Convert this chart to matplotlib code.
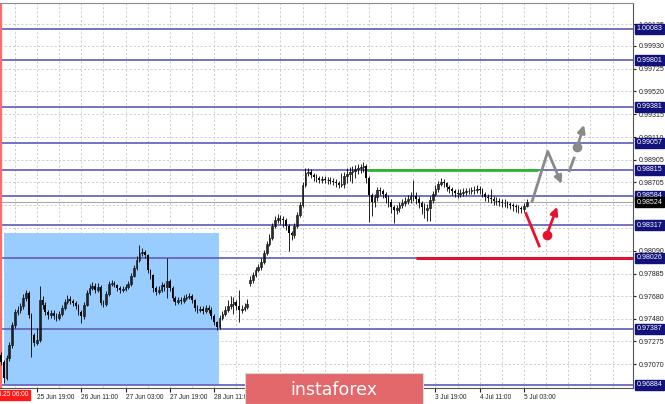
import numpy as np
import matplotlib
matplotlib.use("Agg")
import matplotlib.pyplot as plt
from matplotlib.patches import Rectangle

plt.rcParams['font.family'] = ['Liberation Sans', 'DejaVu Sans']

# hourly candles, bar 1 = 25 Jun 06:00 (weekend removed)
first_open = 0.97150
gap_bar = 91
gap_open = 0.97800
closes = [
    0.97090, 0.96947, 0.97126, 0.97243, 0.97423, 0.97539, 0.97557, 0.97593, 0.97665, 0.97710,
    0.97512, 0.97333, 0.97261, 0.97288, 0.97647, 0.97602, 0.97539, 0.97512, 0.97530, 0.97503,
    0.97485, 0.97521, 0.97575, 0.97629, 0.97656, 0.97638, 0.97620, 0.97593, 0.97539, 0.97503,
    0.97602, 0.97710, 0.97755, 0.97773, 0.97737, 0.97764, 0.97620, 0.97611, 0.97701, 0.97791,
    0.97800, 0.97782, 0.97755, 0.97737, 0.97746, 0.97764, 0.97791, 0.97863, 0.97934, 0.98006,
    0.98069, 0.98078, 0.98051, 0.97916, 0.97872, 0.97755, 0.97719, 0.97737, 0.97782, 0.97764,
    0.97818, 0.97755, 0.97665, 0.97629, 0.97647, 0.97638, 0.97665, 0.97674, 0.97683, 0.97647,
    0.97575, 0.97557, 0.97566, 0.97548, 0.97575, 0.97557, 0.97503, 0.97449, 0.97405, 0.97485,
    0.97521, 0.97557, 0.97593, 0.97611, 0.97629, 0.97593, 0.97557, 0.97566, 0.97584, 0.97611,
    0.97827, 0.97872, 0.97916, 0.97943, 0.97988, 0.98069, 0.98150, 0.98204, 0.98311, 0.98365,
    0.98383, 0.98374, 0.98365, 0.98311, 0.98248, 0.98230, 0.98311, 0.98410, 0.98500, 0.98680,
    0.98787, 0.98796, 0.98770, 0.98752, 0.98743, 0.98725, 0.98734, 0.98725, 0.98725, 0.98716,
    0.98707, 0.98698, 0.98680, 0.98689, 0.98761, 0.98778, 0.98796, 0.98805, 0.98823, 0.98832,
    0.98841, 0.98850, 0.98743, 0.98590, 0.98527, 0.98572, 0.98635, 0.98626, 0.98599, 0.98563,
    0.98527, 0.98482, 0.98455, 0.98473, 0.98500, 0.98518, 0.98536, 0.98554, 0.98581, 0.98581,
    0.98554, 0.98518, 0.98482, 0.98455, 0.98473, 0.98545, 0.98599, 0.98644, 0.98689, 0.98707,
    0.98698, 0.98662, 0.98644, 0.98626, 0.98608, 0.98599, 0.98608, 0.98617, 0.98626, 0.98626,
    0.98635, 0.98635, 0.98644, 0.98635, 0.98599, 0.98572, 0.98563, 0.98554, 0.98536, 0.98536,
    0.98527, 0.98518, 0.98518, 0.98509, 0.98500, 0.98491, 0.98482, 0.98473, 0.98464, 0.98491,
    0.98524,
]
highs = [
    0.97180, 0.97110, 0.97150, 0.97270, 0.97450, 0.97570, 0.97590, 0.97620, 0.97700, 0.97740,
    0.97730, 0.97530, 0.97350, 0.97400, 0.97770, 0.97680, 0.97630, 0.97560, 0.97560, 0.97560,
    0.97530, 0.97550, 0.97600, 0.97660, 0.97690, 0.97680, 0.97660, 0.97640, 0.97610, 0.97560,
    0.97630, 0.97740, 0.97790, 0.97810, 0.97800, 0.97800, 0.97780, 0.97650, 0.97730, 0.97820,
    0.97830, 0.97820, 0.97790, 0.97770, 0.97770, 0.97790, 0.97820, 0.97890, 0.97960, 0.98040,
    0.98141, 0.98110, 0.98100, 0.98060, 0.97930, 0.97880, 0.97770, 0.97770, 0.97810, 0.97800,
    0.98024, 0.97840, 0.97770, 0.97680, 0.97670, 0.97670, 0.97690, 0.97700, 0.97710, 0.97700,
    0.97660, 0.97600, 0.97590, 0.97590, 0.97600, 0.97600, 0.97580, 0.97520, 0.97460, 0.97510,
    0.97550, 0.97590, 0.97650, 0.97680, 0.97670, 0.97650, 0.97737, 0.97600, 0.97620, 0.97660,
    0.97860, 0.97900, 0.97940, 0.97970, 0.98020, 0.98100, 0.98180, 0.98240, 0.98340, 0.98400,
    0.98420, 0.98410, 0.98400, 0.98380, 0.98330, 0.98270, 0.98340, 0.98440, 0.98530, 0.98710,
    0.98830, 0.98832, 0.98820, 0.98790, 0.98780, 0.98760, 0.98760, 0.98760, 0.98750, 0.98750,
    0.98740, 0.98730, 0.98720, 0.98790, 0.98800, 0.98830, 0.98840, 0.98850, 0.98860, 0.98870,
    0.98870, 0.98886, 0.98870, 0.98760, 0.98610, 0.98600, 0.98660, 0.98660, 0.98640, 0.98620,
    0.98590, 0.98550, 0.98500, 0.98500, 0.98530, 0.98550, 0.98570, 0.98590, 0.98620, 0.98725,
    0.98620, 0.98580, 0.98540, 0.98520, 0.98510, 0.98580, 0.98630, 0.98680, 0.98720, 0.98740,
    0.98730, 0.98710, 0.98680, 0.98660, 0.98640, 0.98640, 0.98640, 0.98650, 0.98650, 0.98650,
    0.98660, 0.98670, 0.98680, 0.98670, 0.98650, 0.98620, 0.98600, 0.98640, 0.98580, 0.98570,
    0.98560, 0.98550, 0.98550, 0.98540, 0.98530, 0.98520, 0.98510, 0.98500, 0.98490, 0.98520,
    0.98550,
]
lows = [
    0.97060, 0.96902, 0.96930, 0.97100, 0.97220, 0.97400, 0.97510, 0.97530, 0.97570, 0.97640,
    0.97490, 0.97135, 0.97230, 0.97240, 0.97270, 0.97570, 0.97510, 0.97480, 0.97490, 0.97480,
    0.97460, 0.97470, 0.97500, 0.97560, 0.97610, 0.97610, 0.97590, 0.97570, 0.97510, 0.97440,
    0.97480, 0.97590, 0.97690, 0.97740, 0.97710, 0.97720, 0.97600, 0.97580, 0.97590, 0.97680,
    0.97770, 0.97760, 0.97730, 0.97710, 0.97720, 0.97730, 0.97750, 0.97770, 0.97850, 0.97920,
    0.97990, 0.98040, 0.98020, 0.97890, 0.97840, 0.97720, 0.97690, 0.97700, 0.97720, 0.97730,
    0.97665, 0.97730, 0.97640, 0.97600, 0.97610, 0.97610, 0.97620, 0.97650, 0.97660, 0.97620,
    0.97550, 0.97530, 0.97540, 0.97520, 0.97530, 0.97530, 0.97480, 0.97420, 0.97378, 0.97390,
    0.97470, 0.97500, 0.97540, 0.97570, 0.97520, 0.97560, 0.97449, 0.97530, 0.97550, 0.97570,
    0.97770, 0.97800, 0.97850, 0.97900, 0.97920, 0.97970, 0.98050, 0.98130, 0.98190, 0.98290,
    0.98340, 0.98330, 0.98300, 0.98280, 0.98090, 0.98190, 0.98200, 0.98290, 0.98390, 0.98480,
    0.98660, 0.98760, 0.98740, 0.98720, 0.98710, 0.98700, 0.98700, 0.98700, 0.98690, 0.98690,
    0.98680, 0.98660, 0.98650, 0.98660, 0.98650, 0.98700, 0.98720, 0.98700, 0.98740, 0.98780,
    0.98790, 0.98800, 0.98700, 0.98350, 0.98400, 0.98480, 0.98540, 0.98590, 0.98560, 0.98520,
    0.98480, 0.98430, 0.98338, 0.98420, 0.98440, 0.98470, 0.98490, 0.98510, 0.98520, 0.98540,
    0.98510, 0.98470, 0.98420, 0.98380, 0.98360, 0.98356, 0.98520, 0.98580, 0.98620, 0.98670,
    0.98660, 0.98630, 0.98610, 0.98590, 0.98570, 0.98560, 0.98570, 0.98580, 0.98590, 0.98600,
    0.98600, 0.98600, 0.98610, 0.98600, 0.98570, 0.98540, 0.98530, 0.98520, 0.98500, 0.98500,
    0.98490, 0.98480, 0.98480, 0.98470, 0.98460, 0.98450, 0.98440, 0.98430, 0.98430, 0.98440,
    0.98480,
]

levels = [1.00083, 0.99801, 0.99381, 0.99057, 0.98815, 0.98584, 0.98317, 0.98026, 0.97387, 0.96884]
current_price = 0.98524
grid_prices = [1.00125, 0.99930, 0.99725, 0.99520, 0.99315, 0.99110, 0.98905, 0.98705, 0.98500,
               0.98295, 0.98090, 0.97885, 0.97680, 0.97480, 0.97275, 0.97070]
y_ticks = [1.00125, 0.99930, 0.99725, 0.99520, 0.99315, 0.99110, 0.98905, 0.98705,
           0.98090, 0.97885, 0.97680, 0.97480, 0.97275, 0.97070]
x_tick_bars = [14, 30, 46, 62, 78, 158, 174, 190]
x_tick_labels = ["25 Jun 19:00", "26 Jun 11:00", "27 Jun 03:00", "27 Jun 19:00", "28 Jun 11:00",
                 "3 Jul 19:00", "4 Jul 11:00", "5 Jul 03:00"]
start_label = "2019.06.25 06:00"

# zone and markup
zone_bars = (2.1, 79.8)
zone_prices = (0.96884, 0.98249)
green_span = (133.3, 195.1, 0.98815)
red_span = (151.0, 240.0, 0.98026)
grey_path = [(192.8, 0.98522), (198.6, 0.98981), (203.6, 0.98690)]
grey_dash = [(206.4, 0.98807), (208.1, 0.98921)]
grey_dot = (209.3, 0.99025)
grey_tip = (211.7, 0.99220)
red_path = [(190.7, 0.98424), (195.5, 0.98133)]
red_dot = (198.2, 0.98229)
red_tip = (202.0, 0.98484)

bars = np.arange(1, len(closes) + 1)
closes = np.array(closes)
opens = np.concatenate([[first_open], closes[:-1]])
opens[gap_bar - 1] = gap_open
highs = np.array(highs)
lows = np.array(lows)

fig = plt.figure(figsize=(6.65, 4.04), dpi=100)
fig.patch.set_facecolor("white")
ax = fig.add_axes([0, 16 / 404, 633 / 665, 385 / 404])
ax.set_xlim(0.63, 229.4)
ax.set_ylim(0.96857, 1.00314)

# grid
for gx in np.arange(6, 230, 8):
    ax.axvline(gx, color="#c4c4c4", lw=0.6, ls=(0, (2.5, 2.5)), zorder=0)
for gy in grid_prices:
    ax.axhline(gy, color="#c4c4c4", lw=0.6, ls=(0, (2.5, 2.5)), zorder=0)

ax.add_patch(Rectangle((zone_bars[0], zone_prices[0]), zone_bars[1] - zone_bars[0],
                       zone_prices[1] - zone_prices[0], color="#99ccff", lw=0, zorder=1))

for lv in levels:
    ax.axhline(lv, color="#6464bd", lw=1.4, alpha=0.9, zorder=2)
ax.axhline(current_price, color="#a8a8a8", lw=0.8, zorder=2)
ax.axvline(1, color="#ff6a6a", lw=1.6, zorder=2)

ax.hlines(green_span[2], green_span[0], green_span[1], color="#2fb52f", lw=2, zorder=3)
ax.hlines(red_span[2], red_span[0], red_span[1], color="#dd1030", lw=2.2, zorder=3)

# candles
ax.vlines(bars, lows, highs, color="black", lw=0.6, zorder=4)
bull = closes >= opens
w = 0.62
ax.bar(bars[bull], (closes - opens)[bull], w, bottom=opens[bull], facecolor="none",
       edgecolor="#222222", lw=0.6, zorder=5)
ax.bar(bars[~bull], (opens - closes)[~bull], w, bottom=closes[~bull], color="black",
       lw=0, zorder=5)

# forecast arrows
gx_, gy_ = zip(*grey_path[:2])
ax.plot(gx_, gy_, color="#8a8a8a", lw=2, solid_capstyle="butt", zorder=6)
ax.annotate("", xy=grey_path[2], xytext=grey_path[1],
            arrowprops=dict(arrowstyle="-|>", color="#8a8a8a", lw=2, mutation_scale=11,
                            shrinkA=0, shrinkB=0), zorder=6)
dx_, dy_ = zip(*grey_dash)
ax.plot(dx_, dy_, color="#8a8a8a", lw=2, zorder=6)
ax.plot(*grey_dot, "o", color="#8a8a8a", ms=6, zorder=6)
ax.annotate("", xy=grey_tip, xytext=grey_dot,
            arrowprops=dict(arrowstyle="-|>", color="#8a8a8a", lw=2, mutation_scale=11,
                            shrinkA=0, shrinkB=0), zorder=6)
rx_, ry_ = zip(*red_path)
ax.plot(rx_, ry_, color="#e8112d", lw=2, zorder=6)
ax.plot(*red_dot, "o", color="#e8112d", ms=6, zorder=6)
ax.annotate("", xy=red_tip, xytext=red_dot,
            arrowprops=dict(arrowstyle="-|>", color="#e8112d", lw=2, mutation_scale=11,
                            shrinkA=0, shrinkB=0), zorder=6)

# axes styling
ax.spines["left"].set_visible(False)
ax.spines["top"].set_color("#8c8c8c")
ax.spines["right"].set_color("#555555")
ax.spines["bottom"].set_color("#555555")
ax.yaxis.tick_right()
ax.set_yticks(y_ticks)
ax.set_yticklabels([f"{v:.5f}" for v in y_ticks])
ax.tick_params(axis="y", length=2, pad=2, labelsize=5.1, colors="#222222")
ax.set_xticks(x_tick_bars)
ax.set_xticklabels(x_tick_labels, ha="left")
ax.tick_params(axis="x", length=3, pad=1.5, labelsize=4.7, colors="#222222")

label_box = dict(boxstyle="square,pad=0.22", fc="#12127a", ec="#12127a")
for lv in levels:
    ax.text(1.006, lv, f"{lv:.5f}", transform=ax.get_yaxis_transform(), fontsize=5.1,
            color="white", va="center", ha="left", bbox=label_box, zorder=10, clip_on=False)
ax.text(1.006, current_price, f"{current_price:.5f}", transform=ax.get_yaxis_transform(),
        fontsize=5.1, color="white", va="center", ha="left",
        bbox=dict(boxstyle="square,pad=0.22", fc="black", ec="black"), zorder=11, clip_on=False)

fig.text(28 / 665, 9 / 404, start_label, fontsize=4.7, color="white", ha="right", va="center",
         bbox=dict(boxstyle="square,pad=0.3", fc="#ff1a1a", ec="#ff1a1a"))

# watermark
fig.patches.append(Rectangle((245 / 665, 0), 178 / 665, 31 / 404, transform=fig.transFigure,
                             facecolor="#e3686b", edgecolor="#d9d9d9", lw=0.8, zorder=20))
fig.text(334 / 665, 14 / 404, "instaforex", fontsize=12.5, color="white", ha="center",
         va="center", family="DejaVu Sans", zorder=21)

fig.savefig("out.png", dpi=100)
